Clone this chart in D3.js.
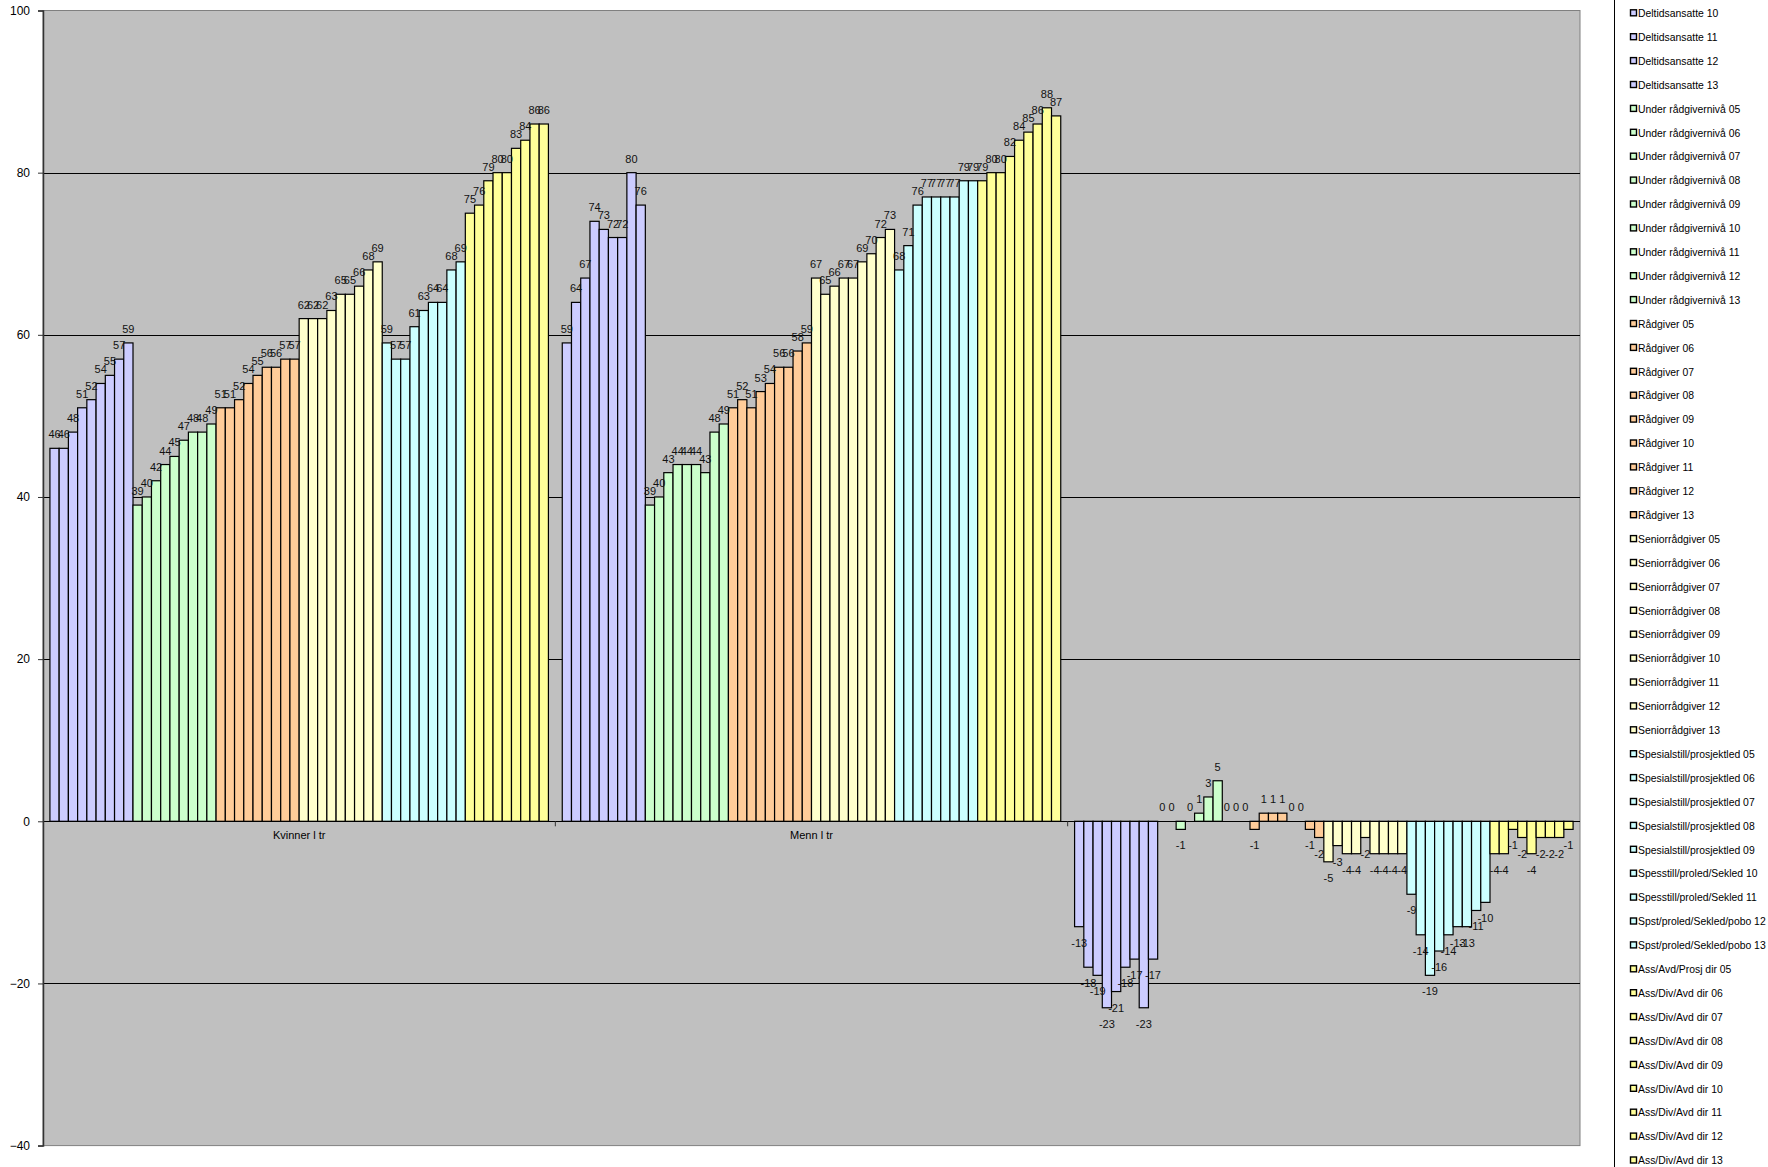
<!DOCTYPE html>
<html>
<head>
<meta charset="utf-8">
<script src="https://cdn.jsdelivr.net/npm/d3@7"></script>
<style>
  html, body { margin: 0; padding: 0; background: #fff; }
  svg { display: block; font-family: "Liberation Sans", Arial, sans-serif; }
</style>
</head>
<body>
<svg id="chart" width="1768" height="1167"></svg>
<script>
// Categories along the x axis (the third group is the women - men difference)
const categories = ["Kvinner l tr", "Menn l tr", ""];

// Series, one per job level and year
const seriesNames = [
  "Deltidsansatte 05", "Deltidsansatte 06", "Deltidsansatte 07", "Deltidsansatte 08", "Deltidsansatte 09",
  "Deltidsansatte 10", "Deltidsansatte 11", "Deltidsansatte 12", "Deltidsansatte 13",
  "Under rådgivernivå 05", "Under rådgivernivå 06", "Under rådgivernivå 07", "Under rådgivernivå 08", "Under rådgivernivå 09",
  "Under rådgivernivå 10", "Under rådgivernivå 11", "Under rådgivernivå 12", "Under rådgivernivå 13",
  "Rådgiver 05", "Rådgiver 06", "Rådgiver 07", "Rådgiver 08", "Rådgiver 09",
  "Rådgiver 10", "Rådgiver 11", "Rådgiver 12", "Rådgiver 13",
  "Seniorrådgiver 05", "Seniorrådgiver 06", "Seniorrådgiver 07", "Seniorrådgiver 08", "Seniorrådgiver 09",
  "Seniorrådgiver 10", "Seniorrådgiver 11", "Seniorrådgiver 12", "Seniorrådgiver 13",
  "Spesialstill/prosjektled 05", "Spesialstill/prosjektled 06", "Spesialstill/prosjektled 07", "Spesialstill/prosjektled 08",
  "Spesialstill/prosjektled 09", "Spesstill/proled/Sekled 10", "Spesstill/proled/Sekled 11",
  "Spst/proled/Sekled/pobo 12", "Spst/proled/Sekled/pobo 13",
  "Ass/Avd/Prosj dir 05", "Ass/Div/Avd dir 06", "Ass/Div/Avd dir 07", "Ass/Div/Avd dir 08", "Ass/Div/Avd dir 09",
  "Ass/Div/Avd dir 10", "Ass/Div/Avd dir 11", "Ass/Div/Avd dir 12", "Ass/Div/Avd dir 13"
];

// Values per series for each category
const kvinner = [
  46, 46, 48, 51, 52, 54, 55, 57, 59,
  39, 40, 42, 44, 45, 47, 48, 48, 49,
  51, 51, 52, 54, 55, 56, 56, 57, 57,
  62, 62, 62, 63, 65, 65, 66, 68, 69,
  59, 57, 57, 61, 63, 64, 64, 68, 69,
  75, 76, 79, 80, 80, 83, 84, 86, 86
];
const menn = [
  59, 64, 67, 74, 73, 72, 72, 80, 76,
  39, 40, 43, 44, 44, 44, 43, 48, 49,
  51, 52, 51, 53, 54, 56, 56, 58, 59,
  67, 65, 66, 67, 67, 69, 70, 72, 73,
  68, 71, 76, 77, 77, 77, 77, 79, 79,
  79, 80, 80, 82, 84, 85, 86, 88, 87
];
const differanse = [
  -13, -18, -19, -23, -21, -18, -17, -23, -17,
  0, 0, -1, 0, 1, 3, 5, 0, 0,
  0, -1, 1, 1, 1, 0, 0, -1, -2,
  -5, -3, -4, -4, -2, -4, -4, -4, -4,
  -9, -14, -19, -16, -14, -13, -13, -11, -10,
  -4, -4, -1, -2, -4, -2, -2, -2, -1
];
const categoryValues = [kvinner, menn, differanse];

// y-axis ticks
const yTicks = [-40, -20, 0, 20, 40, 60, 80, 100];

// Fill per job level (9 yearly series each)
const levelColors = ["#CCCCFF", "#CCFFCC", "#FFCC99", "#FFFFCC", "#CCFFFF", "#FFFF99"];
const colorOf = i => levelColors[Math.floor(i / 9)];

const svg = d3.select("#chart");
const plot = { left: 43, right: 1580, top: 10.5, bottom: 1145.6 };

const y = d3.scaleLinear().domain([-40, 100]).range([plot.bottom, plot.top]);
const x0 = d3.scaleBand().domain(categories.map((c, i) => i)).range([plot.left, plot.right]);
const x1 = d3.scaleBand().domain(d3.range(seriesNames.length))
  .range([0, x0.bandwidth()]).paddingInner(0).paddingOuter(0.75);

// plot area with its grey frame
svg.append("rect")
  .attr("x", plot.left).attr("y", plot.top)
  .attr("width", plot.right - plot.left).attr("height", plot.bottom - plot.top)
  .attr("fill", "#C0C0C0")
  .attr("stroke", "#808080").attr("stroke-width", 1);

// horizontal gridlines
svg.append("g").selectAll("line")
  .data(yTicks.filter(t => t !== 0 && t !== -40 && t !== 100))
  .join("line")
  .attr("x1", plot.left).attr("x2", plot.right)
  .attr("y1", d => Math.round(y(d)) + 0.5).attr("y2", d => Math.round(y(d)) + 0.5)
  .attr("stroke", "#000").attr("stroke-width", 1);

// bars
const groups = svg.append("g").selectAll("g")
  .data(categoryValues)
  .join("g")
  .attr("transform", (d, i) => `translate(${x0(i)},0)`);

groups.selectAll("rect")
  .data(d => d.map((v, i) => ({ v, i })))
  .join("rect")
  .attr("x", d => x1(d.i))
  .attr("width", x1.bandwidth())
  .attr("y", d => y(Math.max(0, d.v)))
  .attr("height", d => Math.abs(y(d.v) - y(0)))
  .attr("fill", d => colorOf(d.i))
  .attr("stroke", "#000")
  .attr("stroke-width", 1.2);

// value labels
groups.selectAll("text")
  .data(d => d.map((v, i) => ({ v, i })))
  .join("text")
  .attr("x", d => x1(d.i) + x1.bandwidth() / 2)
  .attr("y", d => d.v >= 0 ? y(d.v) - 10 : y(d.v) + 20)
  .attr("text-anchor", "middle")
  .attr("font-size", 11)
  .attr("fill", "#111")
  .text(d => d.v);

// zero line (category axis)
svg.append("line")
  .attr("x1", plot.left).attr("x2", plot.right)
  .attr("y1", Math.round(y(0)) + 0.5).attr("y2", Math.round(y(0)) + 0.5)
  .attr("stroke", "#000").attr("stroke-width", 1.2);

// category tick marks between groups
svg.append("g").selectAll("line")
  .data(d3.range(1, categories.length))
  .join("line")
  .attr("x1", i => x0(i)).attr("x2", i => x0(i))
  .attr("y1", y(0)).attr("y2", y(0) + 5)
  .attr("stroke", "#333");

// category labels
svg.append("g").selectAll("text")
  .data(categories)
  .join("text")
  .attr("x", (d, i) => x0(i) + x0.bandwidth() / 2)
  .attr("y", y(0) + 18)
  .attr("text-anchor", "middle")
  .attr("font-size", 11)
  .attr("fill", "#000")
  .text(d => d);

// value axis
const yAxis = d3.axisLeft(y).tickValues(yTicks).tickSize(5).tickPadding(8).tickFormat(d3.format("d"));
const ya = svg.append("g")
  .attr("transform", `translate(${plot.left},0)`)
  .call(yAxis);
ya.select(".domain").attr("stroke", "#333").attr("stroke-width", 1.5);
ya.selectAll(".tick line").attr("stroke", "#333");
ya.selectAll(".tick text").attr("font-size", 12).attr("fill", "#000")
  .attr("font-family", "'Liberation Sans', Arial, sans-serif");

// legend: a tall box scrolled so that the first rows sit above the view;
// only the rows inside the view are drawn
const legendX = 1614;
const legendStep = 23.9;
const firstRowY = 13.3 - 5 * legendStep;
const legend = svg.append("g");
legend.append("rect")
  .attr("x", legendX + 0.5).attr("y", -5)
  .attr("width", 300).attr("height", 1200)
  .attr("fill", "#fff").attr("stroke", "#000");

const rows = seriesNames
  .map((name, i) => ({ name, i, y: firstRowY + i * legendStep }))
  .filter(r => r.y > 0);

const items = legend.selectAll("g.item")
  .data(rows)
  .join("g")
  .attr("class", "item")
  .attr("transform", r => `translate(${legendX + 16},${r.y})`);
items.append("rect")
  .attr("x", 0.5).attr("y", -3.5).attr("width", 6).attr("height", 6)
  .attr("fill", r => colorOf(r.i))
  .attr("stroke", "#000").attr("stroke-width", 1.4);
items.append("text")
  .attr("x", 8).attr("y", 3.7)
  .attr("font-size", 10.4)
  .attr("fill", "#000")
  .text(r => r.name);
</script>
</body>
</html>
